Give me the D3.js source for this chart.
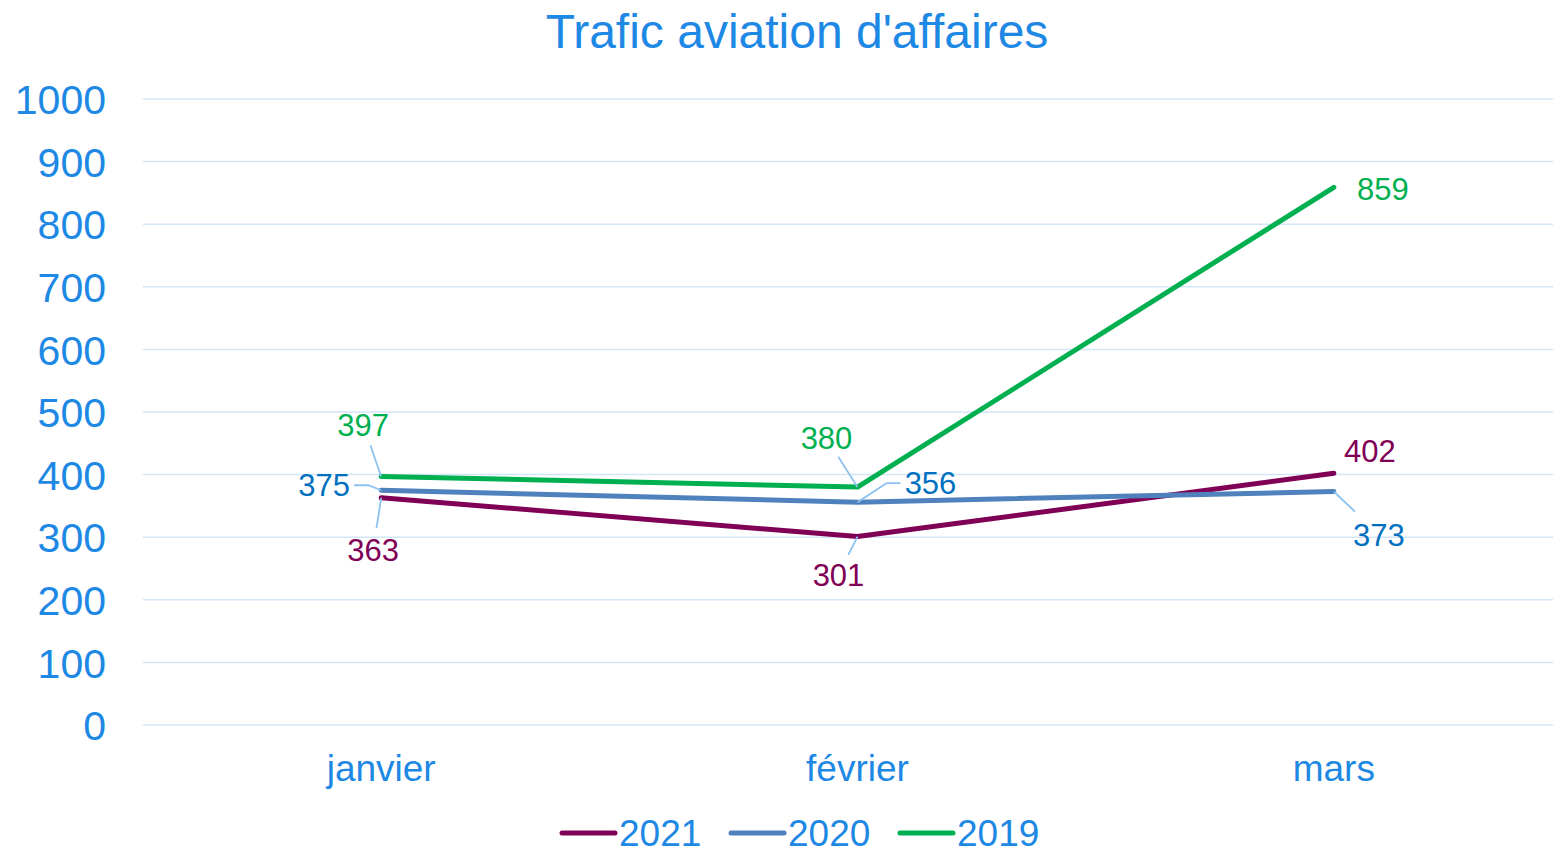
<!DOCTYPE html>
<html>
<head>
<meta charset="utf-8">
<script src="https://cdn.jsdelivr.net/npm/d3@7"></script>
<style>
  body { margin: 0; background: #fff; }
  text { font-family: "Liberation Sans", Arial, sans-serif; }
</style>
</head>
<body>
<div id="chart"></div>
<script>
!(function (d3) {

  // data
  var months = ["janvier", "février", "mars"];
  var years = ["2021", "2020", "2019"];
  var v2021 = [363, 301, 402];
  var v2020 = [375, 356, 373];
  var v2019 = [397, 380, 859];
  var yTicks = [0, 100, 200, 300, 400, 500, 600, 700, 800, 900, 1000];

  var lineColors = {"2021": "#7f0055", "2020": "#4f81bd", "2019": "#00b050"};
  var labelColors = {"2021": "#7f0055", "2020": "#0070c0", "2019": "#00b050"};
  var axisColor = "#1e88e5";

  // label placement: dx, dy from point, leader type (0 none, 1 straight, 2 elbow)
  var labelPos = {
    "2021": [[-8, 52, 1], [-19, 38, 1], [36, -23, 0]],
    "2020": [[-57, -5, 2], [73, -19, 2], [45, 43, 1]],
    "2019": [[-18, -52, 1], [-31, -49, 1], [49, 2, 0]]
  };

  var series = [
    {key: "2021", values: v2021},
    {key: "2020", values: v2020},
    {key: "2019", values: v2019}
  ];

  var W = 1553, H = 851;

  var x = d3.scaleBand()
            .domain(months)
            .range([143, 1572]);
  var y = d3.scaleLinear()
            .domain([0, 1000])
            .range([725, 99]);

  var svg = d3.select("#chart").append("svg")
      .attr("width", W)
      .attr("height", H);

  // title
  svg.append("text")
      .attr("x", 797)
      .attr("y", 48)
      .attr("text-anchor", "middle")
      .style("font-size", "48px")
      .style("fill", axisColor)
      .text("Trafic aviation d'affaires");

  // gridlines
  svg.append("g")
    .selectAll("line")
    .data(yTicks)
    .enter().append("line")
      .attr("x1", 143)
      .attr("x2", W)
      .attr("y1", function(d) { return y(d); })
      .attr("y2", function(d) { return y(d); })
      .attr("stroke", "#d3e6f7")
      .attr("stroke-width", 1.5);

  // y axis
  var yAxis = svg.append("g")
      .attr("transform", "translate(106,0)")
      .call(d3.axisLeft(y).tickValues(yTicks).tickFormat(d3.format("d")).tickSize(0).tickPadding(0));
  yAxis.select(".domain").remove();
  yAxis.selectAll("text")
      .style("font-size", "41px")
      .style("fill", axisColor)
      .attr("dy", "0.36em");

  // x axis
  var xAxis = svg.append("g")
      .attr("transform", "translate(0,740)")
      .call(d3.axisBottom(x).tickSize(0).tickPadding(0));
  xAxis.select(".domain").remove();
  xAxis.selectAll("text")
      .style("font-size", "37px")
      .style("fill", axisColor)
      .attr("dy", "1.1em");

  var line = d3.line()
      .x(function(d, i) { return x(months[i]) + x.bandwidth() / 2; })
      .y(function(d) { return y(d); });

  svg.append("g")
    .selectAll("path")
    .data(series)
    .enter().append("path")
      .attr("d", function(d) { return line(d.values); })
      .attr("fill", "none")
      .attr("stroke", function(d) { return lineColors[d.key]; })
      .attr("stroke-width", 5)
      .attr("stroke-linecap", "round")
      .attr("stroke-linejoin", "round");

  // data labels with leader lines
  series.forEach(function(s) {
    s.values.forEach(function(v, i) {
      var px = x(months[i]) + x.bandwidth() / 2,
          py = y(v),
          p = labelPos[s.key][i],
          lx = px + p[0],
          ly = py + p[1];
      if (p[2] === 1) {
        var dx = px - lx, dy = py - ly;
        var len = Math.sqrt(dx * dx + dy * dy);
        var gap = Math.abs(dy) > Math.abs(dx) ? 22 : 33;
        svg.append("line")
            .attr("x1", lx + dx / len * gap).attr("y1", ly + dy / len * gap)
            .attr("x2", px).attr("y2", py)
            .attr("stroke", "#8dc2f0")
            .attr("stroke-width", 1.8);
      } else if (p[2] === 2) {
        var side = p[0] < 0 ? 1 : -1;
        var sx = lx + side * 30;
        var ex = sx + side * 14;
        svg.append("path")
            .attr("d", "M" + sx + "," + ly + "H" + ex + "L" + px + "," + py)
            .attr("fill", "none")
            .attr("stroke", "#8dc2f0")
            .attr("stroke-width", 1.8);
      }
      svg.append("text")
          .attr("x", lx)
          .attr("y", ly)
          .attr("dy", "0.36em")
          .attr("text-anchor", "middle")
          .style("font-size", "31px")
          .style("fill", labelColors[s.key])
          .text(v);
    });
  });

  // legend
  var legend = svg.append("g");
  var legX = [562, 731, 900];
  years.forEach(function(k, i) {
    legend.append("line")
        .attr("x1", legX[i]).attr("x2", legX[i] + 53)
        .attr("y1", 833).attr("y2", 833)
        .attr("stroke", lineColors[k])
        .attr("stroke-width", 5)
        .attr("stroke-linecap", "round");
    legend.append("text")
        .attr("x", legX[i] + 57)
        .attr("y", 833)
        .attr("dy", "0.36em")
        .style("font-size", "37px")
        .style("fill", axisColor)
        .text(k);
  });

})(d3);
</script>
</body>
</html>
